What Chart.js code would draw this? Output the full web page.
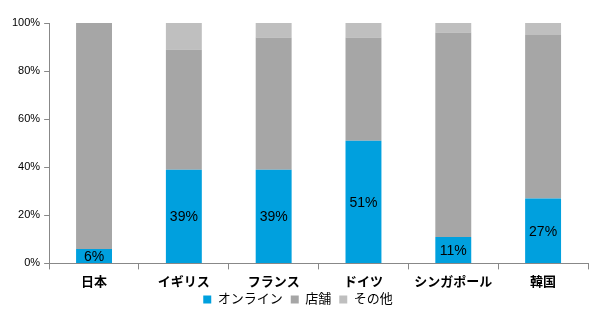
<!DOCTYPE html>
<html>
<head>
<meta charset="utf-8">
<script src="https://cdn.jsdelivr.net/npm/chart.js@4"></script>
<style>
  html, body { margin: 0; padding: 0; background: #fff; }
  #wrap { width: 600px; height: 320px; }
</style>
</head>
<body>
<div id="wrap"><canvas id="chart"></canvas></div>
<script>
const categories = ['日本', 'イギリス', 'フランス', 'ドイツ', 'シンガポール', '韓国'];
const onlineShare = [6, 39, 39, 51, 11, 27];
const storeShare = [94, 50, 55, 43, 85, 68];
const otherShare = [0, 11, 6, 6, 4, 5];
const yTicks = [0, 20, 40, 60, 80, 100];

const fontFamily = "'Liberation Sans', Arial, 'Noto Sans CJK JP', sans-serif";
const LEGEND_LIFT = 10;

// draws the % label in the middle of each online segment
const onlineLabels = {
  id: 'onlineLabels',
  afterDatasetsDraw(chart) {
    const ctx = chart.ctx;
    const meta = chart.getDatasetMeta(0);
    ctx.save();
    ctx.font = '14px ' + fontFamily;
    ctx.fillStyle = '#000';
    ctx.textAlign = 'center';
    ctx.textBaseline = 'middle';
    meta.data.forEach((bar, i) => {
      const y = (bar.y + bar.base) / 2;
      ctx.fillText(onlineShare[i] + '%', bar.x, y + 1);
    });
    ctx.restore();
  },
};

// legend box is shorter than chart.js makes it, so the legend sits tight under the labels
const tightLegend = {
  id: 'tightLegend',
  afterInit(chart) {
    const legend = chart.legend;
    const fit = legend.fit;
    const draw = legend.draw;
    legend.fit = function () {
      fit.call(this);
      this.height -= LEGEND_LIFT;
    };
    legend.draw = function () {
      const top = this.top;
      this.top -= LEGEND_LIFT;
      draw.call(this);
      this.top = top;
    };
  },
};

const ctx = document.getElementById('chart').getContext('2d');
new Chart(ctx, {
  type: 'bar',
  data: {
    labels: categories,
    datasets: [
      { label: 'オンライン', data: onlineShare, backgroundColor: '#00A0DE' },
      { label: '店舗', data: storeShare, backgroundColor: '#A6A6A6' },
      { label: 'その他', data: otherShare, backgroundColor: '#BFBFBF' },
    ].map(d => Object.assign(d, {
      borderWidth: 0,
      categoryPercentage: 1, barPercentage: 0.4,
    })),
  },
  options: {
    responsive: true,
    maintainAspectRatio: false,
    animation: false,
    devicePixelRatio: 1,
    layout: { padding: { left: 8, right: 12, top: 23, bottom: 4 } },
    plugins: {
      legend: {
        position: 'bottom',
        labels: {
          color: '#000', boxWidth: 8, boxHeight: 8, padding: 8,
          font: { size: 13, family: fontFamily },
        },
      },
      tooltip: { enabled: false },
    },
    scales: {
      x: {
        stacked: true,
        border: { color: '#888', width: 1 },
        grid: { drawOnChartArea: false, color: '#888', tickLength: 6, offset: true },
        ticks: {
          color: '#000', padding: 5, maxRotation: 0, minRotation: 0, autoSkip: false,
          font: { size: 13, weight: 'bold', family: fontFamily },
        },
      },
      y: {
        stacked: true,
        min: 0,
        max: 100,
        afterBuildTicks: axis => { axis.ticks = yTicks.map(v => ({ value: v })); },
        border: { color: '#888', width: 1 },
        grid: { drawOnChartArea: false, color: '#888', tickLength: 5 },
        ticks: { color: '#000', padding: 4, font: { size: 11, family: fontFamily }, callback: v => v + '%' },
      },
    },
  },
  plugins: [onlineLabels, tightLegend],
});
</script>
</body>
</html>
